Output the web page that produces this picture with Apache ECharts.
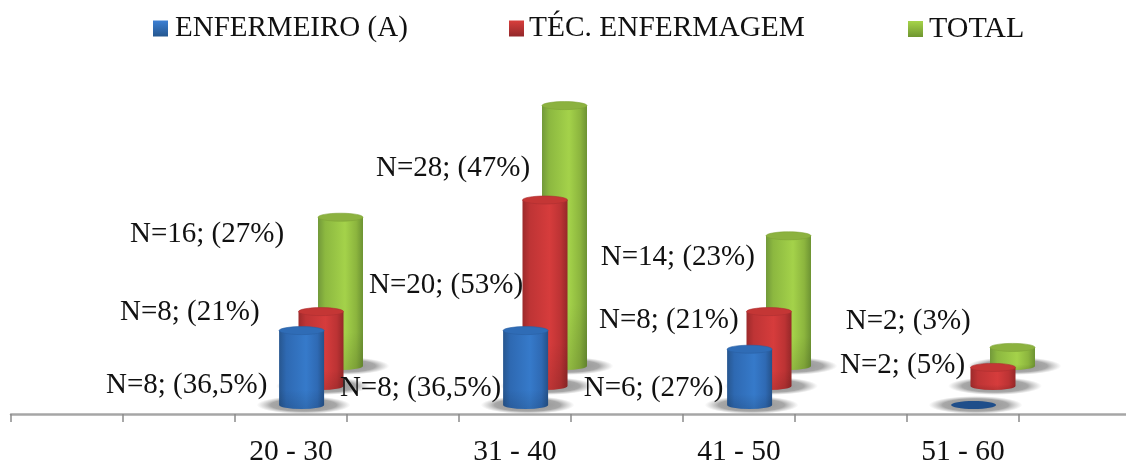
<!DOCTYPE html>
<html>
<head>
<meta charset="utf-8">
<style>html,body{margin:0;padding:0;background:#fff}#chart{width:1126px;height:463px}</style>
<script src="https://cdn.jsdelivr.net/npm/echarts@6/dist/echarts.min.js"></script>
</head>
<body>
<div id="chart"></div>
<script>
// Age bands and the staff counts per band
const ageBands = ['20 - 30', '31 - 40', '41 - 50', '51 - 60'];
const nurseCounts = [8, 8, 6, 0];
const techCounts = [8, 20, 8, 2];
const totalCounts = [16, 28, 14, 2];
const nursePercents = ['36,5%', '36,5%', '27%', null];
const techPercents = ['21%', '53%', '21%', '5%'];
const totalPercents = ['27%', '47%', '23%', '3%'];

// The axis has ten equal slots; a band label sits in every second slot from the third on
const slots = ['', '', ageBands[0], '', ageBands[1], '', ageBands[2], '', ageBands[3], ''];
const bandSlot = i => 2 + i * 2;

const FONT = '"Liberation Serif","Times New Roman",serif';
const RX = 22.5, RY = 4;

const lin = (x2, y2, stops) => ({
  type: 'linear', x: 0, y: 0, x2, y2, global: false,
  colorStops: stops.map(([offset, color]) => ({ offset, color }))
});

// Pseudo-depth: each series stands further back, up and to the right of the one before it
const styles = {
  nurse: {
    depthX: 10.6, depthY: 9,
    body: [[0, '#27568f'], [0.16, '#2e69b2'], [0.6, '#367aca'], [0.85, '#2f6ab4'], [1, '#25528a']],
    top: '#2f6cb6', topEdge: '#2a60a3', flat: '#1f4e8a',
    legend: [[0, '#3d80d4'], [1, '#24568f']],
    labelOffsets: [[-195.6, 54.4], [-185.7, 57.4], [-165.8, 38.8], [0, 0]]
  },
  tech: {
    depthX: 30, depthY: 28,
    body: [[0, '#9c2a2b'], [0.16, '#be3435'], [0.6, '#d63c3c'], [0.85, '#bc3334'], [1, '#962829']],
    top: '#c43635', topEdge: '#ad2f30', flat: '#a82c2d',
    legend: [[0, '#d83e3c'], [1, '#93282a']],
    labelOffsets: [[-201, 1], [-176, 85], [-170, 9], [-153, -2]]
  },
  total: {
    depthX: 49.5, depthY: 48,
    body: [[0, '#72993a'], [0.16, '#8cb840'], [0.6, '#a4d24a'], [0.85, '#8cb53e'], [1, '#6d9333']],
    top: '#8cb23f', topEdge: '#7ea236', flat: '#7ea236',
    legend: [[0, '#a6d44a'], [1, '#6f9630']],
    labelOffsets: [[-210.5, 17], [-188.5, 63], [-187.7, 22], [-166.8, -26]]
  }
};

const groundShadow = {
  type: 'radial', x: 0.5, y: 0.5, r: 0.5, global: false,
  colorStops: [
    { offset: 0, color: 'rgba(85,85,85,0.68)' },
    { offset: 0.7, color: 'rgba(95,95,95,0.55)' },
    { offset: 0.9, color: 'rgba(130,130,130,0.2)' },
    { offset: 1, color: 'rgba(160,160,160,0)' }
  ]
};

function cylinderRenderer(style, percents) {
  return function (params, api) {
    const value = api.value(1);
    const i = params.dataIndex;
    const base = api.coord([api.value(0), 0]);
    const topPt = api.coord([api.value(0), value]);
    const cx = base[0] + style.depthX;
    const baseY = base[1] - style.depthY;
    const topY = topPt[1] - style.depthY;
    const children = [{
      type: 'circle',
      shape: { cx: 0, cy: 0, r: 1 },
      x: cx + 2, y: baseY, scaleX: 47, scaleY: 9,
      style: { fill: groundShadow }, silent: true
    }];
    if (value > 0) {
      const outline = `M${cx - RX} ${topY}L${cx - RX} ${baseY}A${RX} ${RY} 0 0 0 ${cx + RX} ${baseY}L${cx + RX} ${topY}Z`;
      children.push({
        type: 'path',
        shape: { pathData: outline },
        style: { fill: lin(1, 0, style.body) }
      }, {
        type: 'path',
        shape: { pathData: outline },
        style: { fill: lin(0, 1, [[0, 'rgba(0,0,0,0)'], [0.75, 'rgba(0,0,0,0)'], [1, 'rgba(0,0,0,0.12)']]) }
      }, {
        type: 'ellipse',
        shape: { cx, cy: topY, rx: RX, ry: RY },
        style: { fill: style.top, stroke: style.topEdge, lineWidth: 0.6 }
      });
    } else {
      children.push({
        type: 'ellipse',
        shape: { cx, cy: baseY, rx: RX, ry: 4 },
        style: { fill: style.flat }
      });
    }
    if (percents[i]) {
      const off = style.labelOffsets[i];
      children.push({
        type: 'text',
        x: cx + off[0], y: topY + off[1],
        style: {
          text: `N=${value}; (${percents[i]})`,
          fontFamily: FONT, fontSize: 29, fill: '#111',
          align: 'left', verticalAlign: 'middle'
        },
        z2: 50
      });
    }
    return { type: 'group', children };
  };
}

function makeSeries(name, counts, percents, style, z) {
  return {
    name, type: 'custom', z,
    coordinateSystem: 'cartesian2d',
    encode: { x: 0, y: 1 },
    data: counts.map((c, i) => [bandSlot(i), c]),
    itemStyle: { color: lin(0, 1, style.legend) },
    renderItem: cylinderRenderer(style, percents)
  };
}

const legendEntry = (name, left, textPad, fontSize) => ({
  left, top: 14, icon: 'rect', itemWidth: 15, itemHeight: 16, padding: 0,
  data: [name],
  textStyle: { fontFamily: FONT, fontSize, color: '#111', padding: [0, 0, 0, textPad] }
});

const chart = echarts.init(document.getElementById('chart'), null, { renderer: 'canvas' });
chart.setOption({
  animation: false,
  backgroundColor: '#fff',
  legend: [
    legendEntry('ENFERMEIRO (A)', 153, 2, 29),
    legendEntry('TÉC. ENFERMAGEM', 509, 0, 29.4),
    legendEntry('TOTAL', 908, 1, 30)
  ],
  grid: { left: 11, right: -5, top: 42, bottom: 49, outerBoundsMode: 'none' },
  xAxis: {
    type: 'category',
    data: slots,
    boundaryGap: true,
    axisLine: { show: true, lineStyle: { color: '#a6a6a6', width: 2.5 } },
    axisTick: { show: true, interval: 0, length: 8, lineStyle: { color: '#8c8c8c', width: 1.5 } },
    axisLabel: { interval: 0, margin: 23, fontFamily: FONT, fontSize: 29.5, color: '#111' }
  },
  yAxis: { type: 'value', min: 0, max: 40, show: false, splitLine: { show: false } },
  series: [
    makeSeries('ENFERMEIRO (A)', nurseCounts, nursePercents, styles.nurse, 4),
    makeSeries('TÉC. ENFERMAGEM', techCounts, techPercents, styles.tech, 3),
    makeSeries('TOTAL', totalCounts, totalPercents, styles.total, 2)
  ]
});
</script>
</body>
</html>
